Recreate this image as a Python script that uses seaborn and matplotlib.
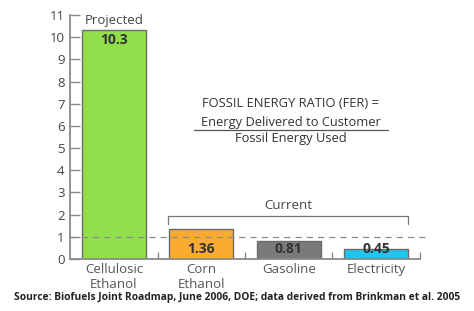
import matplotlib
matplotlib.use('Agg')
import matplotlib.pyplot as plt
import seaborn as sns

categories = ['Cellulosic\nEthanol', 'Corn\nEthanol', 'Gasoline', 'Electricity']
fer_values = [10.3, 1.36, 0.81, 0.45]
value_labels = ['10.3', '1.36', '0.81', '0.45']
bar_colors = ['#92df4c', '#fbac2e', '#7a7a7a', '#1ec6ef']
y_ticks = list(range(0, 12))

sns.set_style('white')
plt.rcParams['font.family'] = ['Open Sans', 'DejaVu Sans']

fig = plt.figure(figsize=(4.74, 3.11), dpi=100)
ax = fig.add_axes([0.148, 0.167, 0.76, 0.785])

sns.barplot(x=categories, y=fer_values, hue=categories, palette=bar_colors,
            legend=False, width=0.73, edgecolor='#6b6b6b', linewidth=1.0,
            saturation=1, ax=ax)

ax.set_xlim(-0.5, 3.62)
ax.set_ylim(0, 11)
ax.set_yticks(y_ticks)
ax.set_xlabel('')
ax.set_ylabel('')

spine_col = '#8a8a8a'
for s in ['top', 'right']:
    ax.spines[s].set_visible(False)
for s in ['left', 'bottom']:
    ax.spines[s].set_color(spine_col)
    ax.spines[s].set_linewidth(1.3)
ax.spines['bottom'].set_bounds(-0.5, 3.5)

ax.tick_params(axis='y', direction='in', length=7, width=1, color=spine_col,
               labelsize=9.5, labelcolor='#444444', pad=4, left=True)
ax.tick_params(axis='x', length=0, labelsize=9.5, labelcolor='#555555', pad=3)
ax.set_xticks([0.5, 1.5, 2.5, 3.5], minor=True)
ax.tick_params(axis='x', which='minor', direction='in', length=5, width=1,
               color=spine_col, bottom=True)

# value labels
for i, (v, lab) in enumerate(zip(fer_values, value_labels)):
    ypos = 9.85 if v > 5 else 0.45
    ax.text(i, ypos, lab, ha='center', va='center', fontsize=10,
            fontweight='bold', color='#333333')

ax.text(0, 10.75, 'Projected', ha='center', va='center', fontsize=9.5, color='#444444')

# reference line at FER = 1
ax.axhline(1, xmin=0, xmax=1, color='#8a8a8a', linestyle=(0, (5, 4)), linewidth=0.9)

# bracket for current fuels
ax.plot([0.62, 0.62, 3.36, 3.36], [1.6, 1.94, 1.94, 1.6], color='#777777', linewidth=0.9)
ax.text(2.0, 2.42, 'Current', ha='center', va='center', fontsize=9.5, color='#444444')

# formula
ax.text(2.02, 7.03, 'FOSSIL ENERGY RATIO (FER) =', ha='center', va='center',
        fontsize=9.3, color='#333333')
ax.text(2.02, 6.17, 'Energy Delivered to Customer', ha='center', va='center',
        fontsize=9.3, color='#333333')
ax.plot([0.92, 3.14], [5.8, 5.8], color='#555555', linewidth=0.9)
ax.text(2.02, 5.45, 'Fossil Energy Used', ha='center', va='center',
        fontsize=9.3, color='#333333')

fig.text(0.5, 0.042, 'Source: Biofuels Joint Roadmap, June 2006, DOE; data derived from Brinkman et al. 2005',
         ha='center', va='center', fontsize=7.4, fontweight='bold', color='#222222')

fig.savefig('out.png', dpi=100)
